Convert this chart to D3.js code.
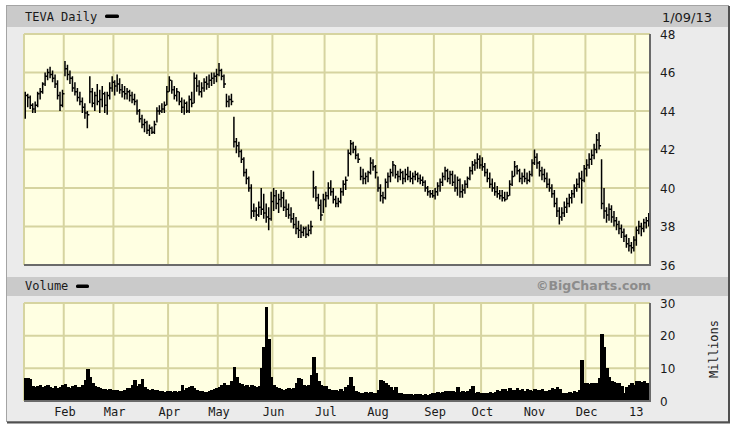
<!DOCTYPE html>
<html>
<head>
<meta charset="utf-8">
<script src="https://cdn.jsdelivr.net/npm/d3@7"></script>
<style>
    body { margin: 0; background: #fff; }
    #chart { width: 736px; height: 429px; }
    text { font-family: 'DejaVu Sans Mono', monospace; font-size: 12px; fill: #1a1a1a; }
    .num { font-family: 'DejaVu Sans', Verdana, sans-serif; font-size: 12px; }
</style>
</head>
<body>
<div id="chart"></div>
<script>
//Sesiones de cotización (mes, días)
const SESIONES = [
    ['2012-01', [9,10,11,12,13,17,18,19,20,23,24,25,26,27,30,31]],
    ['2012-02', [1,2,3,6,7,8,9,10,13,14,15,16,17,21,22,23,24,27,28,29]],
    ['2012-03', [1,2,5,6,7,8,9,12,13,14,15,16,19,20,21,22,23,26,27,28,29,30]],
    ['2012-04', [2,3,4,5,9,10,11,12,13,16,17,18,19,20,23,24,25,26,27,30]],
    ['2012-05', [1,2,3,4,7,8,9,10,11,14,15,16,17,18,21,22,23,24,25,29,30,31]],
    ['2012-06', [1,4,5,6,7,8,11,12,13,14,15,18,19,20,21,22,25,26,27,28,29]],
    ['2012-07', [2,3,5,6,9,10,11,12,13,16,17,18,19,20,23,24,25,26,27,30,31]],
    ['2012-08', [1,2,3,6,7,8,9,10,13,14,15,16,17,20,21,22,23,24,27,28,29,30,31]],
    ['2012-09', [4,5,6,7,10,11,12,13,14,17,18,19,20,21,24,25,26,27,28]],
    ['2012-10', [1,2,3,4,5,8,9,10,11,12,15,16,17,18,19,22,23,24,25,26,31]],
    ['2012-11', [1,2,5,6,7,8,9,12,13,14,15,16,19,20,21,23,26,27,28,29,30]],
    ['2012-12', [3,4,5,6,7,10,11,12,13,14,17,18,19,20,21,24,26,27,28,31]],
    ['2013-01', [2,3,4,7,8,9]]
];

//Precios (máximo, mínimo, cierre)
const ALTO = [
    45.0,44.9,44.8,44.4,44.5,45.0,45.2,45.5,46.0,46.2,46.3,46.1,45.9,45.6,45.0,45.1,
    46.6,46.4,46.1,45.8,45.5,45.2,45.0,44.7,44.4,44.0,45.8,45.2,45.0,45.4,45.1,45.3,45.0,45.0,45.5,45.8,
    45.6,45.9,45.7,45.4,45.3,45.2,45.1,45.0,44.9,44.6,44.1,43.8,43.6,43.5,43.3,43.2,43.5,44.2,44.3,44.4,44.5,45.3,
    45.8,45.6,45.3,45.2,45.0,44.7,44.6,44.5,44.8,45.0,46.0,45.9,45.6,45.5,45.7,45.8,45.9,46.0,46.0,46.2,
    46.5,46.2,45.9,44.9,44.8,44.9,43.7,42.6,42.4,42.0,41.6,41.0,40.6,40.2,39.2,39.0,39.3,40.0,39.7,39.2,39.0,39.8,
    40.0,39.9,39.7,39.9,39.8,39.4,39.2,39.0,38.7,38.5,38.3,38.1,38.0,38.0,38.1,38.3,40.9,40.1,39.7,39.4,39.7,
    39.8,40.3,40.4,40.0,39.6,39.5,40.0,40.4,40.6,42.0,42.5,42.4,42.2,41.8,41.1,41.0,40.8,40.9,41.6,41.5,41.2,
    40.6,40.2,39.8,40.5,40.8,41.0,41.4,41.2,40.9,41.0,40.9,41.0,41.1,40.9,40.8,40.9,40.8,40.7,40.6,40.4,40.1,39.9,39.9,
    40.0,40.3,40.5,40.8,41.1,41.0,40.9,40.9,40.7,40.6,40.5,40.2,40.4,40.6,41.1,41.4,41.5,41.8,41.7,
    41.6,41.3,41.0,40.8,40.5,40.3,40.1,39.9,39.9,39.8,39.8,40.4,40.9,41.4,41.2,41.0,40.8,41.0,40.8,40.9,41.5,
    42.0,41.8,41.4,41.1,41.0,40.8,40.5,40.2,39.9,39.5,39.0,39.0,39.3,39.5,39.7,39.9,40.2,40.5,40.8,40.9,41.2,
    41.5,41.8,42.0,42.3,42.8,42.9,41.5,40.0,39.0,39.2,39.1,38.8,38.5,38.3,38.1,37.9,37.6,37.4,37.2,37.5,
    38.0,38.3,38.2,38.4,38.5,38.7
];
const BAJO = [
    43.6,44.2,44.1,43.9,43.9,44.2,44.6,44.9,45.3,45.6,45.7,45.5,45.2,44.6,44.0,44.2,
    45.8,45.6,45.4,45.0,44.8,44.5,44.3,43.9,43.6,43.1,44.4,44.2,44.0,44.3,43.9,44.2,43.9,43.8,44.6,45.0,
    44.8,45.0,44.9,44.7,44.6,44.6,44.5,44.4,44.3,43.8,43.4,43.1,42.9,42.8,42.7,42.8,42.8,43.4,43.8,43.9,43.9,44.3,
    45.0,44.9,44.6,44.5,44.3,43.9,43.8,43.9,43.9,44.2,44.4,45.0,44.8,44.7,45.0,45.1,45.2,45.3,45.4,45.5,
    45.8,45.6,45.2,44.2,44.2,44.3,42.1,41.8,41.6,41.3,40.6,40.2,39.8,38.4,38.5,38.3,38.5,38.6,38.4,38.2,37.8,38.3,
    38.8,38.9,38.7,39.0,38.8,38.5,38.4,38.2,37.9,37.6,37.4,37.4,37.5,37.4,37.5,37.6,39.5,39.3,38.9,38.3,38.7,
    39.0,39.4,39.6,39.2,39.0,39.0,39.2,39.6,39.9,40.6,41.7,41.8,41.5,41.3,40.4,40.2,40.2,40.3,40.7,40.9,40.5,
    39.8,39.3,39.2,39.4,40.0,40.3,40.6,40.5,40.3,40.4,40.2,40.3,40.4,40.3,40.2,40.4,40.3,40.2,40.1,39.8,39.6,39.5,39.5,
    39.4,39.6,39.8,40.1,40.4,40.3,40.2,40.1,39.8,39.6,39.5,39.5,39.7,40.0,40.4,40.7,40.9,41.0,41.0,
    40.9,40.6,40.3,40.0,39.8,39.6,39.5,39.4,39.3,39.3,39.4,39.6,40.1,40.6,40.7,40.3,40.2,40.3,40.2,40.3,40.6,
    41.2,41.0,40.6,40.4,40.3,40.0,39.8,39.5,39.0,38.5,38.1,38.3,38.5,38.7,39.0,39.2,39.5,39.8,40.0,39.2,40.3,
    40.6,41.0,41.2,41.5,41.8,42.0,38.9,38.4,38.2,38.3,38.2,38.0,37.8,37.6,37.4,37.2,36.9,36.7,36.6,36.7,
    37.0,37.6,37.5,37.7,37.9,38.0
];
const CIERRE = [
    44.8,44.7,44.3,44.1,44.3,44.9,45.0,45.4,45.8,46.0,45.9,45.7,45.4,44.8,44.3,44.9,
    46.2,45.9,45.7,45.2,45.0,44.7,44.5,44.2,43.9,43.8,45.0,44.4,44.8,44.5,44.6,44.9,44.3,44.8,45.2,45.5,
    45.3,45.4,45.1,45.0,44.9,45.0,44.8,44.6,44.5,44.0,43.6,43.3,43.4,43.0,43.1,42.9,43.3,44.0,44.0,44.1,44.3,45.0,
    45.6,45.1,44.8,45.0,44.5,44.2,44.4,44.0,44.6,44.4,45.7,45.3,45.0,45.2,45.5,45.4,45.6,45.7,45.8,45.9,
    46.1,45.8,45.4,44.5,44.6,44.5,42.4,42.2,41.9,41.5,40.8,40.5,40.0,38.8,38.8,38.6,39.0,38.9,38.7,38.5,38.4,39.3,
    39.6,39.2,39.4,39.5,39.0,38.9,38.6,38.4,38.1,37.9,37.8,37.7,37.9,37.6,37.8,38.0,40.0,39.5,39.1,38.6,39.4,
    39.6,40.0,39.8,39.4,39.2,39.3,39.8,40.2,40.4,41.8,42.3,42.0,41.7,41.5,40.6,40.5,40.6,40.8,41.3,41.1,40.8,
    40.0,39.6,39.5,40.3,40.6,40.8,41.2,40.7,40.6,40.8,40.5,40.7,40.6,40.5,40.6,40.7,40.5,40.4,40.3,40.0,39.8,39.7,39.6,
    39.8,40.1,40.3,40.6,40.9,40.5,40.7,40.3,40.0,40.4,39.8,39.9,40.2,40.5,40.9,41.2,41.3,41.5,41.2,
    41.1,40.8,40.5,40.2,40.0,39.8,39.7,39.6,39.5,39.4,39.6,40.2,40.6,41.1,40.9,40.5,40.6,40.5,40.4,40.7,41.3,
    41.6,41.3,40.9,40.7,40.5,40.2,40.0,39.7,39.2,38.8,38.5,38.7,39.0,39.2,39.5,39.7,40.0,40.2,40.5,40.4,41.0,
    41.2,41.5,41.7,42.0,42.5,42.2,39.2,38.8,38.6,38.9,38.5,38.3,38.1,37.9,37.7,37.5,37.1,37.0,36.9,37.3,
    37.8,38.0,37.9,38.2,38.3,38.5
];

//Volumen (millones)
const VOLUMEN = [
    7.0,7.0,6.8,4.5,4.2,4.5,4.8,4.4,4.6,5.0,4.3,4.1,4.5,4.0,4.4,4.8,
    5.2,4.3,3.9,4.5,5.0,4.2,4.4,4.8,6.5,9.8,7.5,5.5,4.6,4.4,4.0,3.8,3.6,3.5,3.7,3.4,
    3.5,3.4,3.2,3.0,3.3,4.0,4.0,4.8,6.5,4.5,5.2,6.8,4.2,3.7,3.4,3.6,3.5,3.3,3.2,3.0,2.8,3.2,
    3.0,2.8,3.2,2.9,3.1,4.8,3.3,4.0,4.3,4.6,3.9,3.5,3.2,3.0,2.8,2.9,3.1,3.3,3.6,4.0,
    4.2,4.8,5.5,4.8,5.0,6.0,10.4,7.5,5.5,5.2,4.6,4.8,4.4,5.0,4.5,4.3,4.6,10.0,16.5,28.8,19.0,7.3,
    5.0,4.2,4.0,3.8,3.5,3.6,4.0,3.7,3.9,5.5,7.0,6.8,5.0,4.5,5.0,8.0,13.4,8.5,6.0,5.0,4.6,
    4.5,3.8,3.5,3.4,3.3,3.2,3.6,3.0,4.2,5.0,7.3,4.5,3.0,2.8,2.6,2.5,2.7,2.6,2.8,2.5,2.4,
    3.5,6.4,6.0,5.5,5.0,4.2,3.5,4.3,2.6,2.3,2.1,2.0,2.2,2.0,1.9,2.1,2.0,2.2,1.8,2.0,1.9,2.1,2.5,
    2.6,2.8,2.5,2.9,3.2,3.0,3.0,3.2,2.8,4.3,2.9,3.1,2.7,3.2,3.8,4.7,2.6,2.8,2.5,
    2.6,2.5,2.4,2.8,2.5,2.7,3.4,3.0,3.6,3.8,3.2,4.0,3.5,3.3,3.9,3.4,3.6,3.2,3.8,3.3,3.1,
    3.6,3.5,3.3,3.7,3.2,3.0,3.5,4.0,3.6,4.4,3.8,2.6,2.4,2.5,2.8,2.6,3.0,2.7,3.5,12.5,5.5,
    5.4,5.3,5.5,5.4,5.6,7.0,20.4,16.5,10.0,7.5,6.0,5.8,5.5,5.6,4.5,2.5,4.2,4.8,5.5,5.0,
    6.0,6.2,5.8,6.0,5.5,4.2
];

const PRECIO_TICKS = [36, 38, 40, 42, 44, 46, 48];
const VOLUMEN_TICKS = [0, 10, 20, 30];
const MESES = ['Feb','Mar','Apr','May','Jun','Jul','Aug','Sep','Oct','Nov','Dec','13'];

//Colores fijos
const COLOR_FONDO = '#ebebeb',
COLOR_CABECERA = '#cacaca',
COLOR_PLOT = '#ffffe2',
COLOR_GRID = '#d6d4a0',
COLOR_BORDE = '#6a6a6a';

//Fechas
let fechas = [], inicioMes = [];
SESIONES.forEach(function(m) {
    m[1].forEach(function(d, i) {
        let f = m[0] + '-' + (d < 10 ? '0' + d : d);
        fechas.push(f);
        if (i == 0) inicioMes.push(f);
    });
});
inicioMes = inicioMes.slice(1);

let datos = fechas.map(function(f, i) {
    return { fecha: f, h: ALTO[i], l: BAJO[i], c: CIERRE[i], v: VOLUMEN[i] };
});

let left = 24, right = 650,
    pTop = 34, pBottom = 265,
    vTop = 303, vBottom = 401;

let svg = d3.select('#chart')
    .append('svg')
        .attr('width', 736)
        .attr('height', 429);

//Marco
svg.append('rect')
    .attr('x', 6.5).attr('y', 5.5)
    .attr('width', 722).attr('height', 416)
    .attr('fill', COLOR_FONDO)
    .attr('stroke', '#a4a4a4');
svg.append('path')
    .attr('d', 'M729,6V423M7,422.5H730')
    .attr('stroke', '#505050')
    .attr('stroke-width', 2)
    .attr('fill', 'none');

//Cabeceras
svg.append('rect').attr('x', 7).attr('y', 6).attr('width', 721).attr('height', 21).attr('fill', COLOR_CABECERA);
svg.append('rect').attr('x', 7).attr('y', 277).attr('width', 721).attr('height', 19).attr('fill', COLOR_CABECERA);

let x = d3.scaleBand()
    .domain(fechas)
    .range([left, right]);

let y = d3.scaleLinear()
    .domain([36, 48])
    .range([pBottom, pTop]);

let yV = d3.scaleLinear()
    .domain([0, 30])
    .range([vBottom, vTop]);

function panel(top, bottom, ticks, scale) {
    let g = svg.append('g');
    g.append('rect')
        .attr('x', left).attr('y', top)
        .attr('width', right - left).attr('height', bottom - top)
        .attr('fill', COLOR_PLOT);
    g.selectAll('.hgrid')
        .data(ticks)
        .enter()
        .append('line')
            .attr('x1', left).attr('x2', right)
            .attr('y1', function(d) { return scale(d); })
            .attr('y2', function(d) { return scale(d); })
            .attr('stroke', COLOR_GRID)
            .attr('stroke-width', 2);
    g.selectAll('.vgrid')
        .data([fechas[0]].concat(inicioMes))
        .enter()
        .append('line')
            .attr('x1', function(d) { return x(d); })
            .attr('x2', function(d) { return x(d); })
            .attr('y1', top).attr('y2', bottom)
            .attr('stroke', COLOR_GRID)
            .attr('stroke-width', 2);
    return g;
}

//Panel de precios
panel(pTop, pBottom, PRECIO_TICKS, y);

svg.append('g')
    .selectAll('path')
    .data(datos)
    .enter()
    .append('path')
        .attr('d', function(d) {
            let cx = x(d.fecha) + x.bandwidth() / 2;
            return 'M' + cx + ',' + y(d.h) + 'V' + y(d.l) + 'M' + cx + ',' + y(d.c) + 'H' + (cx + 2);
        })
        .attr('stroke', '#000')
        .attr('stroke-width', 1.5)
        .attr('fill', 'none');

svg.append('path')
    .attr('d', 'M' + left + ',' + pBottom + 'H' + (right + 1) + 'M' + right + ',' + pTop + 'V' + (pBottom + 1))
    .attr('stroke', COLOR_BORDE)
    .attr('stroke-width', 2)
    .attr('fill', 'none');

let ejeP = svg.append('g')
    .attr('transform', 'translate(660,0)')
    .call(d3.axisRight(y).tickValues(PRECIO_TICKS).tickSize(0).tickPadding(0));
ejeP.select('.domain').remove();
ejeP.selectAll('text').attr('class', 'num').attr('x', 0).attr('dy', '0.35em');

//Panel de volumen
panel(vTop, vBottom, VOLUMEN_TICKS, yV);

svg.append('g')
    .attr('shape-rendering', 'crispEdges')
    .selectAll('rect')
    .data(datos)
    .enter()
    .append('rect')
        .attr('x', function(d) { return x(d.fecha); })
        .attr('width', x.bandwidth() + 1)
        .attr('y', function(d) { return yV(d.v); })
        .attr('height', function(d) { return vBottom - yV(d.v); })
        .attr('fill', '#000');

svg.append('path')
    .attr('d', 'M' + left + ',' + vBottom + 'H' + (right + 1) + 'M' + right + ',' + vTop + 'V' + (vBottom + 1))
    .attr('stroke', COLOR_BORDE)
    .attr('stroke-width', 2)
    .attr('fill', 'none');

let ejeV = svg.append('g')
    .attr('transform', 'translate(660,0)')
    .call(d3.axisRight(yV).tickValues(VOLUMEN_TICKS).tickSize(0).tickPadding(0));
ejeV.select('.domain').remove();
ejeV.selectAll('text').attr('class', 'num').attr('x', 0).attr('dy', '0.35em');

//Meses
let ejeX = svg.append('g')
    .attr('transform', 'translate(0,412)')
    .call(d3.axisBottom(x).tickValues(inicioMes).tickSize(0).tickPadding(0)
        .tickFormat(function(d, i) { return MESES[i]; }));
ejeX.select('.domain').remove();
ejeX.selectAll('text').attr('y', 0).attr('dy', '0.35em');
ejeX.attr('font-family', null).attr('font-size', null);
ejeP.attr('font-family', null).attr('font-size', null);
ejeV.attr('font-family', null).attr('font-size', null);

//Textos
svg.append('text').attr('x', 25).attr('y', 17).attr('dy', '0.35em').text('TEVA Daily');
svg.append('rect').attr('x', 105).attr('y', 14.5).attr('width', 14).attr('height', 3.5).attr('rx', 1.5).attr('fill', '#000');
svg.append('text').attr('class', 'num').attr('x', 712).attr('y', 17).attr('dy', '0.35em')
    .attr('text-anchor', 'end').style('font-size', '13px').text('1/09/13');

svg.append('text').attr('x', 25).attr('y', 286).attr('dy', '0.35em').text('Volume');
svg.append('rect').attr('x', 76).attr('y', 284.5).attr('width', 13).attr('height', 3.5).attr('rx', 1.5).attr('fill', '#000');

svg.append('text')
    .attr('x', 651).attr('y', 286).attr('dy', '0.35em')
    .attr('text-anchor', 'end')
    .style('font-family', "'DejaVu Sans', Verdana, sans-serif")
    .style('font-weight', 'bold')
    .style('font-size', '12.5px')
    .style('fill', '#8c8c8c')
    .text('©BigCharts.com');

svg.append('text')
    .attr('transform', 'translate(714,349) rotate(-90)')
    .attr('dy', '0.35em')
    .attr('text-anchor', 'middle')
    .text('Millions');
</script>
</body>
</html>
